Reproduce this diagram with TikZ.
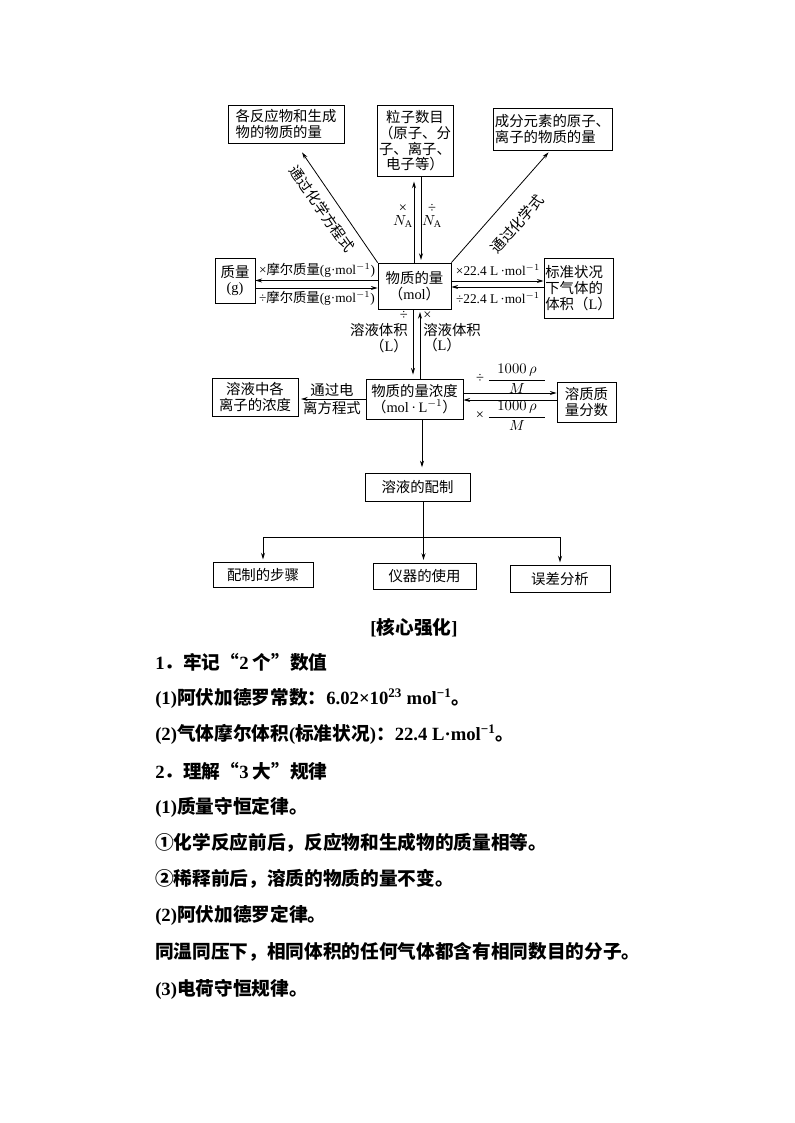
\documentclass[tikz,border=0pt]{standalone}
\usepackage{fontspec}
\usepackage{amsmath}
\setmainfont{Noto Sans CJK SC}
\newfontfamily\latfont{Liberation Serif}
\newcommand\lat[1]{{\latfont #1}}
\newcommand\dgfont{\fontsize{10.8}{11.8}\selectfont}
\newcommand\smfont{\fontsize{10}{11}\selectfont}
\newcommand\bodyfont{\fontsize{14}{16}\selectfont\bfseries}
\usetikzlibrary{arrows.meta,calc,positioning}
\tikzset{
  box/.style={draw,line width=.6pt,inner sep=1pt,align=center,font=\dgfont},
  lbl/.style={inner sep=0pt,align=center,font=\dgfont},
  arr/.style={line width=.6pt,-{Stealth[length=5pt,width=3pt]}},
  txt/.style={anchor=west,inner sep=0pt,font=\bodyfont},
}
\begin{document}
\begin{tikzpicture}[x=.75pt,y=-.75pt]
  \useasboundingbox (0,0) rectangle (794,1123);
  % boxes
  \node[box,align=left,minimum width=87pt,minimum height=28.5pt] (r1) at (286,124) {各反应物和生成\\物的物质的量};
  \node[box,minimum width=57pt,minimum height=53.25pt] (n1) at (415,141) {粒子数目\\（原子、分\\子、离子、\\电子等）};
  \node[box,align=left,minimum width=89.25pt,minimum height=31.5pt] (e1) at (552.5,129) {成分元素的原子、\\离子的物质的量};
  \node[box,minimum width=30pt,minimum height=33.75pt] (m) at (235,280.5) {质量\\\lat{(g)}};
  \node[box,minimum width=54.75pt,minimum height=34.5pt] (n) at (414.5,286) {物质的量\\（\lat{mol}）};
  \node[box,align=left,minimum width=50.25pt,minimum height=45pt] (v) at (578.5,288) {标准状况\\下气体的\\体积（\lat{L}）};
  \node[box,minimum width=64.5pt,minimum height=28.5pt] (ion) at (255,397) {溶液中各\\离子的浓度};
  \node[box,minimum width=72.75pt,minimum height=30pt] (c) at (414.5,399) {物质的量浓度\\（\lat{mol\,·\,L}$^{-1}$）};
  \node[box,minimum width=44.25pt,minimum height=30pt] (w) at (586.5,402) {溶质质\\量分数};
  \node[box,minimum width=78.75pt,minimum height=21pt] (prep) at (417.5,487) {溶液的配制};
  \node[box,minimum width=75pt,minimum height=18.75pt] (s1) at (263,575) {配制的步骤};
  \node[box,minimum width=77.25pt,minimum height=19.5pt] (s2) at (424.5,576) {仪器的使用};
  \node[box,minimum width=75pt,minimum height=20.25pt] (s3) at (560,579) {误差分析};
  % diagonal arrows
  \coordinate (r1tip) at ($(r1.south)+(16,9)$);
  \coordinate (e1tip) at ($(e1.south)+(-4,2)$);
  \draw[arr] (n.north west) -- (r1tip);
  \draw[arr] (n.north east) -- (e1tip);
  \node[lbl,rotate=-55] (eqn) at (322,209) {通过化学方程式};
  \node[lbl,rotate=49] (form) at (517,224) {通过化学式};
  % N_A
  \coordinate (nA) at ($(n.north)+(-0.5,0)$);
  \coordinate (nB) at ($(n.north)+(6.5,0)$);
  \draw[arr,shorten >=3.5pt] (nA) -- (nA |- n1.south);
  \draw[arr,shorten >=2pt] (nB |- n1.south) -- (nB);
  \node[lbl] (mNA) at (403,216) {\lat{×}\\[-2pt]$N_{\text{\latfont A}}$};
  \node[lbl] (dNA) at (432,216) {\lat{÷}\\[-2pt]$N_{\text{\latfont A}}$};
  % mass
  \coordinate (mn1) at ($(n.west)+(0,-5.5)$);
  \coordinate (mn2) at ($(n.west)+(0,2)$);
  \draw[arr] (mn1) -- (mn1 -| m.east);
  \draw[arr] (mn2 -| m.east) -- (mn2);
  \node[lbl,font=\smfont] (mulM) at (317,270) {\lat{×}摩尔质量\lat{(g·mol}$^{-1}$\lat{)}};
  \node[lbl,font=\smfont] (divM) at (317,298) {\lat{÷}摩尔质量\lat{(g·mol}$^{-1}$\lat{)}};
  % gas volume
  \coordinate (nv1) at ($(n.east)+(0,-5)$);
  \coordinate (nv2) at ($(n.east)+(0,1)$);
  \draw[arr] (nv1) -- (nv1 -| v.west);
  \draw[arr] (nv2 -| v.west) -- (nv2);
  \node[lbl,font=\smfont] (mulV) at (498,270) {\lat{×22.4 L\,·mol}$^{-1}$};
  \node[lbl,font=\smfont] (divV) at (498,298) {\lat{÷22.4 L\,·mol}$^{-1}$};
  % solution volume
  \coordinate (nc1) at ($(n.south)+(-1.5,0)$);
  \coordinate (nc2) at ($(n.south)+(5.5,0)$);
  \draw[arr,shorten >=3pt] (nc1) -- (nc1 |- c.north);
  \draw[arr,shorten >=2pt] (nc2 |- c.north) -- (nc2);
  \node[lbl,align=right,anchor=east] (volL) at (408,332) {\lat{÷}\\溶液体积\\（\lat{L}）};
  \node[lbl,align=left,anchor=west] (volR) at (423,332) {\lat{×}\\溶液体积\\（\lat{L}）};
  % ions
  \draw[arr,shorten >=2pt] (c.west) -- (c.west -| ion.east);
  \node[lbl] (ionz) at (332,399) {通过电\\[2pt]离方程式};
  % mass fraction
  \coordinate (cw1) at ($(c.east)+(0,-6)$);
  \coordinate (cw2) at ($(c.east)+(0,1)$);
  \draw[arr] (cw1) -- (cw1 -| w.west);
  \draw[arr] (cw2 -| w.west) -- (cw2);
  \node[lbl] (divW) at (480,378) {\lat{÷}};
  \node[lbl] (fracW1) at (517,379) {$\dfrac{\hspace{0.6em}1000\,\rho\hspace{0.6em}}{M}$};
  \node[lbl] (mulW) at (480,416) {\lat{×}};
  \node[lbl] (fracW2) at (517,416) {$\dfrac{\hspace{0.6em}1000\,\rho\hspace{0.6em}}{M}$};
  % preparation
  \coordinate (stem) at ($(c.south)+(7.5,0)$);
  \draw[arr,shorten >=4pt] (stem) -- (stem |- prep.north);
  \coordinate (bus) at ($(prep.south)+(6,36)$);
  \draw[line width=.6pt] (bus |- prep.south) -- (bus);
  \draw[line width=.6pt] (s1.north |- bus) -- (s3.north |- bus);
  \draw[arr,shorten >=2pt] (s1.north |- bus) -- (s1.north);
  \draw[arr,shorten >=2pt] (bus) -- (bus |- s2.north);
  \draw[arr,shorten >=2pt] (s3.north |- bus) -- (s3.north);
  % text below
  \node[txt,anchor=center] (head) at (414,628) {\lat{[}核心强化\lat{]}};
  \node[txt] (l1) at (155,662) {\lat{1}．牢记“\lat{2} 个”数值};
  \node[txt] (l2) at (155,698) {\lat{(1)}阿伏加德罗常数：\lat{6.02×10\textsuperscript{23} mol\textsuperscript{−1}}。};
  \node[txt] (l3) at (155,734) {\lat{(2)}气体摩尔体积\lat{(}标准状况\lat{)}：\lat{22.4 L·mol\textsuperscript{−1}}。};
  \node[txt] (l4) at (155,771) {\lat{2}．理解“\lat{3} 大”规律};
  \node[txt] (l5) at (155,807) {\lat{(1)}质量守恒定律。};
  \node[txt] (l6) at (155,843) {①化学反应前后，反应物和生成物的质量相等。};
  \node[txt] (l7) at (155,879) {②稀释前后，溶质的物质的量不变。};
  \node[txt] (l8) at (155,915) {\lat{(2)}阿伏加德罗定律。};
  \node[txt] (l9) at (155,952) {同温同压下，相同体积的任何气体都含有相同数目的分子。};
  \node[txt] (l10) at (155,989) {\lat{(3)}电荷守恒规律。};
\end{tikzpicture}
\end{document}
